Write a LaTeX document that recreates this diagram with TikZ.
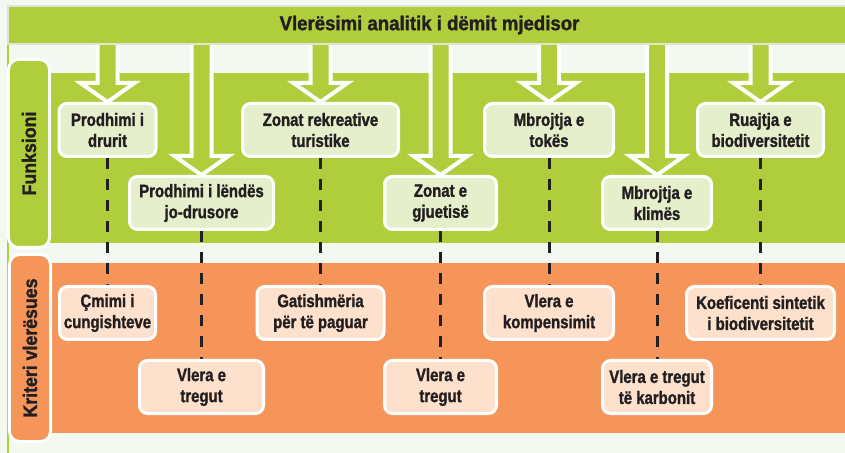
\documentclass[tikz,border=0pt]{standalone}
\usepackage{fontspec}
\setmainfont{Liberation Sans}
\newfontfamily\boxfont[FakeStretch=0.83,FakeBold=1.4]{Liberation Sans}
\newfontfamily\titlefont[FakeStretch=0.93,FakeBold=1.4]{Liberation Sans}
\newfontfamily\sidefont[FakeStretch=0.91,FakeBold=1.4]{Liberation Sans}
\usetikzlibrary{calc}
\definecolor{bgc}{HTML}{F3F8F0}
\definecolor{grn}{HTML}{B0CE3C}
\definecolor{grnbox}{HTML}{E6EFCC}
\definecolor{org}{HTML}{F5955A}
\definecolor{orgbox}{HTML}{FDE1CD}
\definecolor{ink}{HTML}{231F20}
\definecolor{edgec}{HTML}{DCE6D2}
\pgfdeclarelayer{back}
\pgfdeclarelayer{mid}
\pgfsetlayers{back,mid,main}
\newcommand\barrow[1]{\draw[blockarr] let \p1=(#1.north), \p2=(title.south) in
  (\x1-10bp,\y2) -- (\x1-10bp,\y1+19bp) -- (\x1-27bp,\y1+19bp) -- (\x1,\y1)
  -- (\x1+27bp,\y1+19bp) -- (\x1+10bp,\y1+19bp) -- (\x1+10bp,\y2);}
\begin{document}
\begin{tikzpicture}[x=1bp,y=-1bp,
  boxtext/.style={font=\boxfont\bfseries\fontsize{18bp}{21bp}\selectfont, text=ink, align=center},
  gbox/.style={boxtext, draw=white, line width=3bp, rounded corners=8bp, fill=grnbox, minimum height=53bp, inner sep=0pt},
  obox/.style={gbox, fill=orgbox},
  link/.style={draw=ink, line width=3bp, dash pattern=on 11bp off 10bp},
  blockarr/.style={draw=white, fill=grn, line width=4bp, line join=miter},
  sidebox/.style={draw=white, line width=3bp, rounded corners=10bp, inner sep=0pt, rotate=90,
     minimum height=41bp, font=\sidefont\bfseries\fontsize{19.5bp}{22bp}\selectfont, text=ink},
]
\useasboundingbox (0,0) rectangle (845,453);

% title bar
\node[fill=grn, draw=edgec, line width=2bp, minimum width=843bp, minimum height=38bp, inner sep=0pt,
      text=ink, font=\titlefont\bfseries\fontsize{20bp}{22bp}\selectfont] (title) at (429.5,25) {Vlerësimi analitik i dëmit mjedisor};

% side labels
\node[sidebox, fill=grn, minimum width=188bp] (fun) at (29,153.5) {Funksioni};
\node[sidebox, fill=org, minimum width=187bp] (krit) at (30,348) {Kriteri vlerësues};

% function boxes
\node[gbox, minimum width=97bp]  (g1) at (107.5,130) {Prodhimi i\\drurit};
\node[gbox, minimum width=144bp] (g2) at (201.5,203) {Prodhimi i lëndës\\jo-drusore};
\node[gbox, minimum width=156bp] (g3) at (320.5,130) {Zonat rekreative\\turistike};
\node[gbox, minimum width=112bp] (g4) at (440.5,203) {Zonat e\\gjuetisë};
\node[gbox, minimum width=129bp] (g5) at (549,130) {Mbrojtja e\\tokës};
\node[gbox, minimum width=109bp] (g6) at (657,203) {Mbrojtja e\\klimës};
\node[gbox, minimum width=126bp] (g7) at (760.5,130) {Ruajtja e\\biodiversitetit};

% criteria boxes
\node[obox, minimum width=96bp]  (o1) at (107.5,313) {Çmimi i\\cungishteve};
\node[obox, minimum width=124bp] (o2) at (201.5,387) {Vlera e\\tregut};
\node[obox, minimum width=127bp] (o3) at (320.5,313) {Gatishmëria\\për të paguar};
\node[obox, minimum width=112bp] (o4) at (440.5,387) {Vlera e\\tregut};
\node[obox, minimum width=129bp] (o5) at (549,313) {Vlera e\\kompensimit};
\node[obox, minimum width=109bp] (o6) at (657,387) {Vlera e tregut\\të karbonit};
\node[obox, minimum width=148bp] (o7) at (760.5,313) {Koeficenti sintetik\\i biodiversitetit};

\begin{pgfonlayer}{back}
  \fill[bgc] (0,0) rectangle (845,453);
  \fill[grn] (50,73) rectangle (845,243);
  \fill[org] (51,263) rectangle (845,433);
  \fill[grn] (6.5,44) rectangle (9,453);
\end{pgfonlayer}

\begin{pgfonlayer}{mid}
  \foreach \i in {1,...,7}{\draw[link] (g\i.south) -- (o\i.north);}
  \foreach \i in {1,...,7}{\barrow{g\i}}
\end{pgfonlayer}
\end{tikzpicture}
\end{document}
